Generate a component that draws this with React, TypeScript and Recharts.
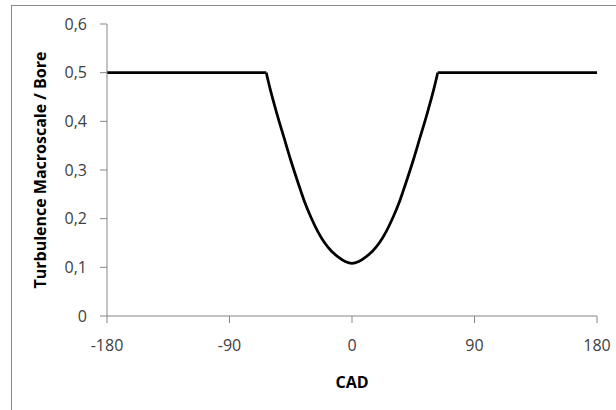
import React from 'react';
import { LineChart, Line, XAxis, YAxis } from 'recharts';

const cad = [-180, -63, -60, -55, -50, -45, -40, -35, -30, -25, -20, -15, -10, -5, 0, 5, 10, 15, 20, 25, 30, 35, 40, 45, 50, 55, 60, 63, 180];
const macroscale = [0.5, 0.5, 0.465, 0.414, 0.367, 0.32, 0.277, 0.236, 0.202, 0.173, 0.15, 0.133, 0.121, 0.112, 0.108, 0.112, 0.121, 0.133, 0.15, 0.173, 0.202, 0.236, 0.277, 0.32, 0.367, 0.414, 0.465, 0.5, 0.5];
const xTicks = [-180, -90, 0, 90, 180];
const yTicks = [0, 0.1, 0.2, 0.3, 0.4, 0.5, 0.6];

const lastIdx = cad.length - 1;
const data = cad.map((x, i) => ({
  x,
  flat: i <= 1 || i >= lastIdx - 1 ? macroscale[i] : null,
  curve: i >= 1 && i <= lastIdx - 1 ? macroscale[i] : null,
}));

const FONT = '"Open Sans", sans-serif';

export default function App() {
  return (
    <div style={{ position: 'absolute', left: 0, top: 0, width: 616, height: 410, background: '#fff', overflow: 'hidden' }}>
      <div style={{ position: 'absolute', left: 11, top: 5, width: 700, height: 500, borderLeft: '1px solid #8a8a8a', borderTop: '1px solid #8a8a8a' }} />
      <div style={{ position: 'absolute', left: 0, top: 0 }}>
        <LineChart width={616} height={410} data={data} margin={{ top: 24, right: 19, bottom: 0, left: 0 }}>
          <XAxis
            dataKey="x"
            type="number"
            domain={[-180, 180]}
            ticks={xTicks}
            stroke="#868686"
            tickSize={7}
            tickMargin={17}
            height={94}
            tick={{ fill: '#404040', fontSize: 16, fontFamily: FONT }}
            label={{ value: 'CAD', position: 'insideTop', offset: 61, style: { fontWeight: 'bold', fill: '#000', fontSize: 16, fontFamily: FONT } }}
          />
          <YAxis
            type="number"
            domain={[0, 0.6]}
            ticks={yTicks}
            stroke="#868686"
            tickSize={7}
            tickMargin={13}
            width={107}
            tickFormatter={(v: number) => (v === 0 ? '0' : v.toFixed(1).replace('.', ','))}
            tick={{ fill: '#404040', fontSize: 16, fontFamily: FONT }}
            label={{ value: 'Turbulence Macroscale / Bore', angle: -90, position: 'insideLeft', offset: 40, style: { textAnchor: 'middle', fontWeight: 'bold', fill: '#000', fontSize: 16, fontFamily: FONT } }}
          />
          <Line type="linear" dataKey="flat" stroke="#000" strokeWidth={2.75} dot={false} connectNulls={false} isAnimationActive={false} />
          <Line type="monotone" dataKey="curve" stroke="#000" strokeWidth={2.75} dot={false} connectNulls={false} isAnimationActive={false} />
        </LineChart>
      </div>
    </div>
  );
}
